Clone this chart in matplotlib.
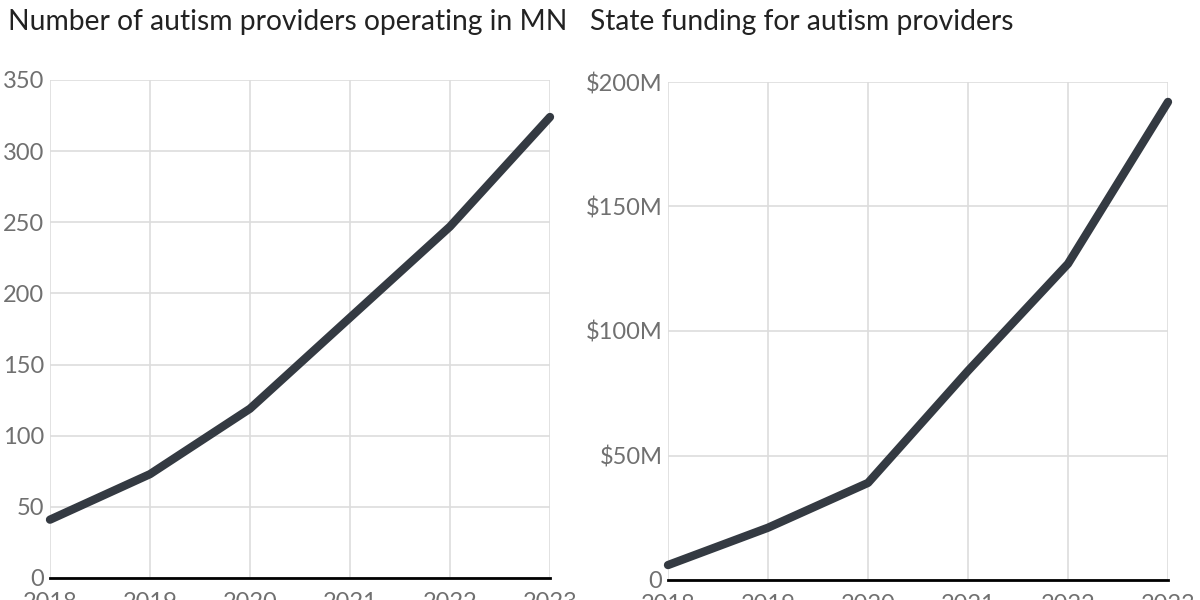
import matplotlib
matplotlib.use("Agg")
import matplotlib.pyplot as plt
from matplotlib.ticker import FuncFormatter

years = [2018, 2019, 2020, 2021, 2022, 2023]
providers = [41, 73, 119, 183, 247, 324]
funding_m = [6, 21, 39, 84, 127, 192]

line_color = "#343a42"
grid_color = "#dddddd"
tick_color = "#707070"

plt.rcParams['font.family'] = ['Lato', 'DejaVu Sans']

fig = plt.figure(figsize=(12, 6), dpi=100)
ax1 = fig.add_axes([50 / 1200, 22 / 600, 500 / 1200, 498 / 600])
ax2 = fig.add_axes([668 / 1200, 20 / 600, 500 / 1200, 498 / 600])


def style(ax, ymax, step, fmt):
    ax.set_xlim(years[0], years[-1])
    ax.set_ylim(0, ymax)
    ax.set_xticks(years)
    ax.set_yticks(range(0, ymax + 1, step))
    ax.yaxis.set_major_formatter(FuncFormatter(fmt))
    ax.grid(True, color=grid_color, linewidth=1.2)
    ax.set_axisbelow(True)
    for s in ["top", "right", "left"]:
        ax.spines[s].set_visible(False)
    ax.spines["bottom"].set_color("black")
    ax.spines["bottom"].set_linewidth(2)
    ax.spines["bottom"].set_zorder(5)
    ax.tick_params(length=0, labelsize=17, labelcolor=tick_color)
    ax.tick_params(axis="y", pad=4)
    ax.tick_params(axis="x", pad=10)


style(ax1, 350, 50, lambda v, p: f"{int(v)}")
style(ax2, 200, 50, lambda v, p: "0" if v == 0 else f"${int(v)}M")

ax1.plot(years, providers, color=line_color, linewidth=6, solid_capstyle="round", clip_on=False, zorder=4)
ax2.plot(years, funding_m, color=line_color, linewidth=6, solid_capstyle="round", clip_on=False, zorder=4)

fig.text(8 / 1200, 1 - 22 / 600, "Number of autism providers operating in MN", fontsize=20.3,
         color="#222222", va="center", ha="left")
fig.text(590 / 1200, 1 - 22 / 600, "State funding for autism providers", fontsize=20.3,
         color="#222222", va="center", ha="left")

fig.savefig("out.png", dpi=100)
